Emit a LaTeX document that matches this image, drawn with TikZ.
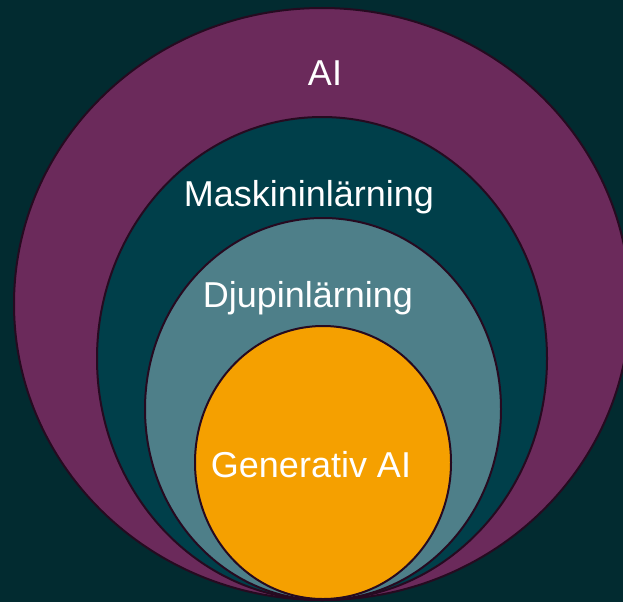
\documentclass[tikz,border=0pt]{standalone}
\usepackage{fontspec}
\setmainfont{Liberation Sans}
\definecolor{bgteal}{HTML}{022B30}
\definecolor{aipurple}{HTML}{6B2A5B}
\definecolor{mlteal}{HTML}{003F4A}
\definecolor{dlteal}{HTML}{4E7F89}
\definecolor{genorange}{HTML}{F5A000}
\definecolor{rimdark}{HTML}{260A20}

\begin{document}
\begin{tikzpicture}[x=1pt, y=-1pt,
  ring/.style={draw=rimdark, line width=2pt},
  lbl/.style={text=white, anchor=base, inner sep=0pt, font=\fontsize{36}{43}\selectfont}]
\useasboundingbox (0,0) rectangle (623,602);
\fill[bgteal] (0,0) rectangle (623,602);

\filldraw[ring, fill=aipurple] (322,304) ellipse [x radius=308pt, y radius=296pt];
\filldraw[ring, fill=mlteal] (322,358.5) ellipse [x radius=225pt, y radius=241.5pt];
\filldraw[ring, fill=dlteal] (323,409) ellipse [x radius=178pt, y radius=191pt];
\filldraw[ring, fill=genorange] (323,462.5) ellipse [x radius=128pt, y radius=136.5pt];

\node (ai) [lbl] at (325,85) {AI};
\node (ml) [lbl] at (309,206) {Maskininlärning};
\node (dl) [lbl] at (308,307) {Djupinlärning};
\node (gen) [lbl] at (311,477) {Generativ AI};
\end{tikzpicture}
\end{document}
